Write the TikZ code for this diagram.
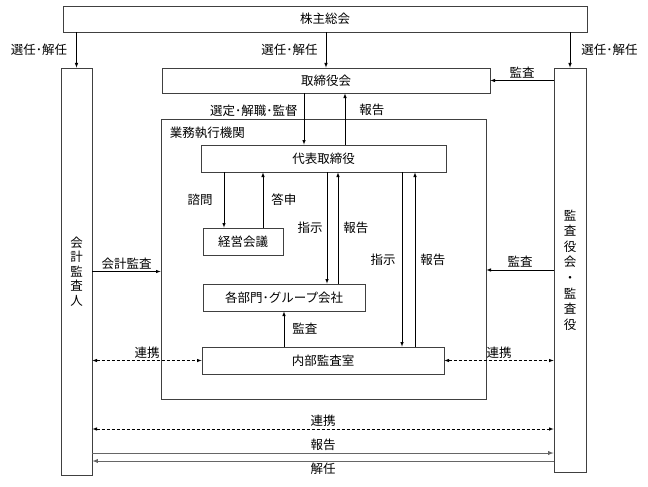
\documentclass[tikz,border=0pt]{standalone}
\usepackage{fontspec}
\setmainfont{Noto Sans CJK JP}
\begin{document}
\begin{tikzpicture}[x=1pt,y=-1pt,
    font=\fontsize{12.5}{15}\selectfont,
    box/.style={draw=black!75,line width=0.8pt,minimum height=27pt,inner sep=0pt},
    arr/.style={-latex,line width=0.6pt},
    link/.style={latex-latex,line width=0.6pt,dash pattern=on 3pt off 2pt},
    lbl/.style={inner sep=2pt}]
  \useasboundingbox (0,0) rectangle (648,487);

  \node[box,minimum width=524pt,minimum height=26pt] (gm) at (325,19) {株主総会};
  \node[box,minimum width=31pt,minimum height=407pt,align=center,
    font=\fontsize{12.5}{14.5}\selectfont] (ka) at (76.5,271.5) {会\\計\\監\\査\\人};
  \node[box,minimum width=32pt,minimum height=404pt,align=center,
    font=\fontsize{12.5}{15.6}\selectfont] (ks) at (570,270) {監\\査\\役\\会\\・\\監\\査\\役};
  \node[box,minimum width=328pt,minimum height=25pt] (tb) at (326,80.5) {取締役会};
  \node[box,minimum width=325pt,minimum height=280pt] (gy) at (323.5,259) {};
  \node[lbl,anchor=north west] (gyl) at ([xshift=7pt,yshift=-6pt]gy.north west) {業務執行機関};
  \node[box,minimum width=245pt] (ds) at (323.5,158.5) {代表取締役};
  \node[box,minimum width=80pt] (kk) at (243,241.5) {経営会議};
  \node[box,minimum width=162pt] (bg) at (284,297.5) {各部門･グループ会社};
  \node[box,minimum width=242pt] (nb) at (323,360.5) {内部監査室};

  % 株主総会から
  \draw[arr] (gm.south -| ka.north) -- (ka.north) node[lbl,midway,left=7pt]{選任･解任};
  \draw[arr] (gm.south -| tb.north) -- (tb.north) node[lbl,midway,left=6pt]{選任･解任};
  \draw[arr] (gm.south -| ks.north) -- (ks.north) node[lbl,midway,right=9pt]{選任･解任};
  \draw[arr] (ks.west |- tb.east) -- (tb.east) node[lbl,midway,above]{監査};

  % 取締役会と代表取締役
  \draw[arr] (tb.south -| 304,0) -- (ds.north -| 304,0)
    node[lbl,pos=0.33,left=4pt]{選定･解職･監督};
  \draw[arr] (ds.north -| 345,0) -- (tb.south -| 345,0)
    node[lbl,pos=0.67,right=12pt]{報告};

  % 代表取締役の下
  \draw[arr] (ds.south -| 224,0) -- (kk.north -| 224,0)
    node[lbl,midway,left=9pt]{諮問};
  \draw[arr] (kk.north -| 263,0) -- (ds.south -| 263,0)
    node[lbl,midway,right=6pt]{答申};
  \draw[arr] (ds.south -| 327,0) -- (bg.north -| 327,0)
    node[lbl,midway,left=2pt]{指示};
  \draw[arr] (bg.north -| 338,0) -- (ds.south -| 338,0)
    node[lbl,midway,right=3pt]{報告};
  \draw[arr] (ds.south -| 402,0) -- (nb.north -| 402,0)
    node[lbl,pos=0.5,left=4pt]{指示};
  \draw[arr] (nb.north -| 415,0) -- (ds.south -| 415,0)
    node[lbl,pos=0.5,right=3pt]{報告};
  \draw[arr] (nb.north -| bg.south) -- (bg.south) node[lbl,midway,right=6pt]{監査};

  % 左右の監査
  \draw[arr] (ka.east) -- (ka.east -| gy.west) node[lbl,midway,above]{会計監査};
  \draw[arr] (ks.west) -- (ks.west -| gy.east) node[lbl,midway,above]{監査};
  \draw[link] (ka.east |- nb.west) -- (nb.west) node[lbl,midway,above]{連携};
  \draw[link] (nb.east) -- (ks.west |- nb.east) node[lbl,midway,above]{連携};

  % 下の連携・報告・解任
  \draw[link] (ka.east |- 0,429) -- (ks.west |- 0,429) node[lbl,midway,above]{連携};
  \draw[arr,line width=0.9pt,draw=black!60] (ka.east |- 0,453) -- (ks.west |- 0,453)
    node[lbl,midway,above,text=black]{報告};
  \draw[arr,line width=0.9pt,draw=black!60] (ks.west |- 0,461) -- (ka.east |- 0,461)
    node[lbl,midway,below,text=black]{解任};
\end{tikzpicture}
\end{document}
